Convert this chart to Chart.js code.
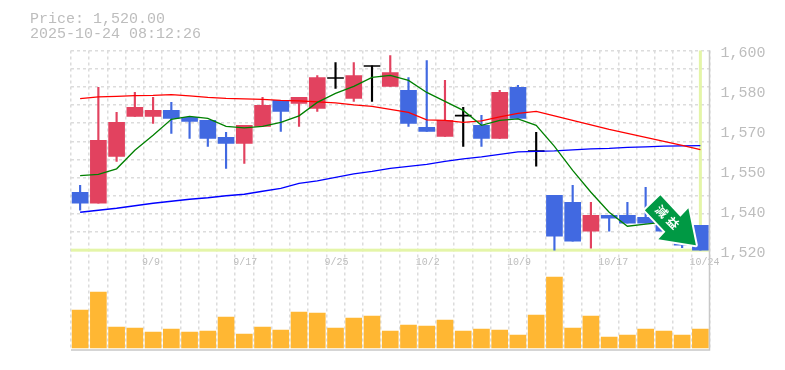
<!DOCTYPE html>
<html>
<head>
<meta charset="utf-8">
<style>
html, body { margin: 0; padding: 0; background: #fff; }
#wrap { position: relative; width: 785px; height: 370px; }
</style>
<script src="https://cdn.jsdelivr.net/npm/chart.js@4"></script>
</head>
<body>
<div id="wrap"><canvas id="priceChart" width="785" height="370"></canvas></div>
<script>
const dates = ['9/3','9/4','9/5','9/8','9/9','9/10','9/11','9/12','9/16','9/17','9/18','9/19','9/22','9/24','9/25','9/26','9/29','9/30','10/1','10/2','10/3','10/6','10/7','10/8','10/9','10/10','10/14','10/15','10/16','10/17','10/20','10/21','10/22','10/23','10/24'];
const dateTicks = ['9/9','9/17','9/25','10/2','10/9','10/17','10/24'];
const priceTicks = [1600, 1584, 1568, 1552, 1536, 1520];

const opens = [1543.2,1538.8,1557.6,1573.6,1573.6,1576,1573.2,1572,1565.2,1562.8,1569.6,1580,1578.8,1576.8,1589,1580.8,1593.8,1585.6,1584,1569.2,1565.6,1573.9,1570,1564.8,1585.2,1559.7,1542,1539.2,1527.6,1534,1534,1533.2,1530,1527,1530];
const closes = [1538.8,1564,1571.2,1577.2,1576,1572.8,1571.6,1564.8,1562.8,1570,1578,1575.6,1581.2,1589.2,1589,1590,1593.8,1591.2,1570.8,1567.6,1572,1573.9,1564.8,1583.2,1572.8,1559.7,1525.6,1523.6,1534,1532.8,1530.8,1530.8,1527.6,1522,1520];
const highs = [1546,1585.2,1575.2,1583.2,1581.2,1579.2,1573.2,1572,1567.2,1570,1581.2,1580,1581.2,1590,1595.2,1595.2,1593.9,1598,1589.2,1596,1588,1577.2,1574,1584,1586,1567.2,1542,1546,1539.2,1534,1539.2,1545.2,1530,1527,1530];
const lows = [1536,1538.8,1555.6,1573.6,1570.8,1566.8,1564.8,1561.6,1552.8,1554.8,1569.6,1567.6,1569.6,1575.6,1584.8,1579.6,1579.6,1585.6,1569.6,1567.6,1565.6,1561.6,1561.6,1564.8,1572.8,1553.7,1520,1523.6,1520.8,1527.6,1530.8,1530.8,1527.6,1521,1520];
const volumes = [3800,5600,2100,2000,1600,1900,1600,1700,3100,1400,2100,1800,3600,3500,2000,3000,3200,1700,2300,2200,2800,1700,1900,1800,1300,3300,7100,2000,3200,1100,1300,1900,1700,1300,1900];

const maShort = [1549.9,1550.4,1552.6,1560,1566,1572.4,1573.6,1572.8,1569.6,1569,1569.6,1571.2,1573.8,1579.2,1582.8,1585.6,1589.2,1590,1588,1583.2,1579.6,1576,1570,1572,1572.6,1570,1561.6,1552,1543.2,1535.2,1529.6,1530.4,1531.2,1531.2,null];
const maMid = [1580.7,1581.4,1581.6,1581.9,1582,1582.3,1581.8,1581.2,1580.8,1580.6,1580.4,1580,1579.8,1579.4,1579,1578.2,1577.6,1576.4,1575.2,1572.2,1572,1571.2,1571.8,1573.4,1574.8,1575.6,1573.8,1572,1570.2,1568.4,1566.8,1565.2,1563.6,1562,1560.3];
const maLong = [1535.2,1536,1536.8,1537.8,1538.8,1539.6,1540.4,1541,1541.8,1542.4,1543.6,1544.8,1546.8,1547.8,1549.2,1550.6,1551.6,1552.8,1553.6,1554.4,1555.6,1556.6,1557.4,1558.4,1559.4,1559.6,1559.8,1560.2,1560.6,1560.8,1561.2,1561.4,1561.7,1561.8,1561.9];

const lastPrice = 1520;
const arrowText = ['減', '益'];

const UP = '#e2425f', DOWN = '#4169e1', DOJI = '#000000';
const candleColors = opens.map((o, i) => closes[i] > o ? UP : closes[i] < o ? DOWN : DOJI);
const bodies = opens.map((o, i) => o === closes[i] ? [o - 0.2, o + 0.2] : [o, closes[i]]);
const wicks = lows.map((l, i) => [l, highs[i]]);

// current price cross, price text, arrow
const overlay = {
    id: 'overlay',
    beforeDatasetsDraw(chart) {
        const { ctx, chartArea, scales } = chart;
        const y = scales.y.getPixelForValue(lastPrice);
        const x = scales.x.getPixelForValue(dates.length - 1);
        ctx.save();
        ctx.fillStyle = '#e4f5a8';
        ctx.fillRect(chartArea.left, y - 1.5, chartArea.right - chartArea.left, 3);
        ctx.fillRect(x - 1.5, chartArea.top, 3, y - chartArea.top);
        ctx.restore();
    },
    afterDraw(chart) {
        const { ctx, chartArea, scales } = chart;
        ctx.save();
        ctx.strokeStyle = '#c8c8c8';
        ctx.lineWidth = 1.5;
        ctx.beginPath();
        ctx.moveTo(chartArea.left, chartArea.bottom);
        ctx.lineTo(chartArea.right, chartArea.bottom);
        ctx.lineTo(chartArea.right, chartArea.top);
        ctx.stroke();

        ctx.fillStyle = '#bdbdbd';
        ctx.font = '15px "Liberation Mono"';
        ctx.textBaseline = 'alphabetic';
        ctx.fillText('Price: ' + lastPrice.toLocaleString('en-US', { minimumFractionDigits: 2 }), 30, 23);
        ctx.fillText('2025-10-24 08:12:26', 30, 38);

        const ax = scales.x.getPixelForValue(dates.length - 1);
        const ay = scales.y.getPixelForValue(lastPrice);
        ctx.beginPath();
        ctx.moveTo(ax - 40, ay - 55);
        ctx.lineTo(ax - 20, ay - 33.5);
        ctx.lineTo(ax - 12, ay - 42);
        ctx.lineTo(ax - 4.5, ay - 5);
        ctx.lineTo(ax - 42, ay - 11);
        ctx.lineTo(ax - 35, ay - 18.5);
        ctx.lineTo(ax - 55.5, ay - 40);
        ctx.closePath();
        ctx.lineJoin = 'round';
        ctx.lineWidth = 4;
        ctx.strokeStyle = '#ffffff';
        ctx.stroke();
        ctx.fillStyle = '#009944';
        ctx.fill();

        ctx.translate(ax - 33, ay - 33);
        ctx.rotate(Math.PI / 4);
        ctx.fillStyle = '#ffffff';
        ctx.font = 'bold 12px "Noto Sans CJK JP"';
        ctx.textAlign = 'center';
        ctx.textBaseline = 'middle';
        ctx.fillText(arrowText[0], -8, 0);
        ctx.fillText(arrowText[1], 8, 0);
        ctx.restore();
    }
};

new Chart(document.getElementById('priceChart').getContext('2d'), {
    data: {
        labels: dates,
        datasets: [
            { type: 'line', data: maShort, borderColor: '#008000', borderWidth: 1.3, pointRadius: 0, tension: 0, order: 1 },
            { type: 'line', data: maMid, borderColor: '#ff0000', borderWidth: 1.3, pointRadius: 0, tension: 0, order: 1 },
            { type: 'line', data: maLong, borderColor: '#0000ff', borderWidth: 1.3, pointRadius: 0, tension: 0, order: 1 },
            { type: 'bar', data: bodies, backgroundColor: candleColors, barThickness: 16, grouped: false, order: 2 },
            { type: 'bar', data: wicks, backgroundColor: candleColors, barThickness: 1.5, grouped: false, order: 3 },
            { type: 'bar', data: volumes, yAxisID: 'yVol', backgroundColor: '#ffb733', barThickness: 16, grouped: false, order: 4 }
        ]
    },
    options: {
        responsive: false,
        animation: false,
        events: [],
        layout: { padding: { left: 71, top: 50.5, right: 0, bottom: 20 } },
        plugins: { legend: { display: false }, tooltip: { enabled: false } },
        scales: {
            x: {
                position: { y: 1517.4 },
                offset: true,
                border: { display: false, dash: [3, 3] },
                grid: { color: '#dcdcdc', lineWidth: 1.5, drawTicks: false, offset: true },
                ticks: {
                    autoSkip: false,
                    maxRotation: 0,
                    minRotation: 0,
                    align: 'start',
                    labelOffset: -11,
                    padding: 0,
                    color: '#bdbdbd',
                    font: { family: '"Liberation Mono"', size: 10 },
                    callback(value) {
                        const label = this.getLabelForValue(value);
                        return dateTicks.includes(label) ? label : '';
                    }
                }
            },
            y: {
                position: 'right',
                min: 1480,
                max: 1600,
                border: { display: false, dash: [3, 3] },
                grid: {
                    color: ctx => ctx.tick.value >= 1519 ? '#dcdcdc' : 'rgba(0,0,0,0)',
                    lineWidth: 1.5,
                    drawTicks: false
                },
                afterBuildTicks(scale) {
                    const step = 80 / 11;
                    scale.ticks = Array.from({ length: 12 }, (_, k) => ({ value: 1600 - k * step }));
                },
                afterFit(scale) { scale.width = 0; },
                ticks: { display: false }
            },
            yLabels: {
                position: 'right',
                min: 1480,
                max: 1600,
                border: { display: false },
                grid: { display: false },
                afterBuildTicks(scale) {
                    scale.ticks = priceTicks.map(value => ({ value }));
                },
                afterFit(scale) { scale.width = 75.5; },
                ticks: {
                    autoSkip: false,
                    padding: 3,
                    labelOffset: 3,
                    color: '#bdbdbd',
                    font: { family: '"Liberation Mono"', size: 15 },
                    callback(value) {
                        return (Math.round(value / 10) * 10).toLocaleString('en-US');
                    }
                }
            },
            yVol: {
                display: false,
                min: -200,
                max: 29750
            }
        }
    },
    plugins: [overlay]
});
</script>
</body>
</html>
